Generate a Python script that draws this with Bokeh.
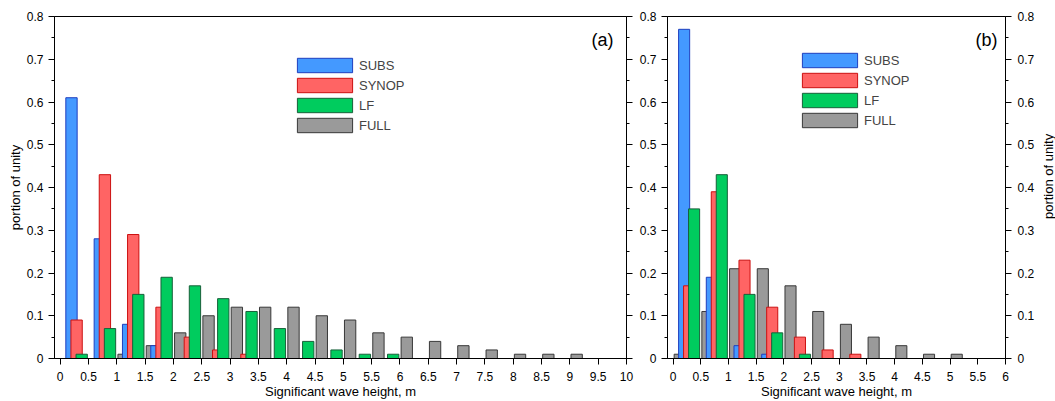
import numpy as np
from bokeh.plotting import figure
from bokeh.models import (ColumnDataSource, FixedTicker, CustomJSTickFormatter, LinearAxis,
                          Range1d, Legend, LegendItem, Label)
from bokeh.transform import dodge
from bokeh.layouts import row
from bokeh.embed import file_html
from bokeh.resources import INLINE
from bokeh.core.properties import value

# ---------------- data ----------------
series = ["SUBS", "SYNOP", "LF", "FULL"]

# panel (a): 0.5 m bins, labelled by right bin edge
edges_a = [0.5, 1.0, 1.5, 2.0, 2.5, 3.0, 3.5, 4.0, 4.5, 5.0,
           5.5, 6.0, 6.5, 7.0, 7.5, 8.0, 8.5, 9.0, 9.5, 10.0]
subs_a = [0.61, 0.28, 0.08, 0.03, 0, 0, 0, 0, 0, 0, 0, 0, 0, 0, 0, 0, 0, 0, 0, 0]
synop_a = [0.09, 0.43, 0.29, 0.12, 0.05, 0.02, 0.01, 0, 0, 0, 0, 0, 0, 0, 0, 0, 0, 0, 0, 0]
lf_a = [0.01, 0.07, 0.15, 0.19, 0.17, 0.14, 0.11, 0.07, 0.04, 0.02, 0.01, 0.01, 0, 0, 0, 0, 0, 0, 0, 0]
full_a = [0.0, 0.01, 0.03, 0.06, 0.10, 0.12, 0.12, 0.12, 0.10, 0.09, 0.06, 0.05, 0.04, 0.03,
          0.02, 0.01, 0.01, 0.01, 0, 0]

# panel (b)
edges_b = [0.0, 0.5, 1.0, 1.5, 2.0, 2.5, 3.0, 3.5, 4.0, 4.5, 5.0, 5.5, 6.0]
subs_b = [0, 0.77, 0.19, 0.03, 0.01, 0, 0, 0, 0, 0, 0, 0, 0]
synop_b = [0, 0.17, 0.39, 0.23, 0.12, 0.05, 0.02, 0.01, 0, 0, 0, 0, 0]
lf_b = [0, 0.35, 0.43, 0.15, 0.06, 0.01, 0, 0, 0, 0, 0, 0, 0]
full_b = [0.01, 0.11, 0.21, 0.21, 0.17, 0.11, 0.08, 0.05, 0.03, 0.01, 0.01, 0, 0]

y_ticks = [0, 0.1, 0.2, 0.3, 0.4, 0.5, 0.6, 0.7, 0.8]
y_minor = [0.05, 0.15, 0.25, 0.35, 0.45, 0.55, 0.65, 0.75]
x_ticks_a = [0, 0.5, 1, 1.5, 2, 2.5, 3, 3.5, 4, 4.5, 5, 5.5, 6, 6.5, 7, 7.5, 8, 8.5, 9, 9.5, 10]
x_ticks_b = [0, 0.5, 1, 1.5, 2, 2.5, 3, 3.5, 4, 4.5, 5, 5.5, 6]

x_label = "Significant wave height, m"
y_label = "portion of unity"

# ---------------- style ----------------
FONT = "Liberation Sans"
H = 401
TOP, BOTTOM = 16, 42
fills = {"SUBS": "#4499ff", "SYNOP": "#ff6464", "LF": "#00cc5e", "FULL": "#9a9a9a"}
lines = {"SUBS": "#1f3fbf", "SYNOP": "#cc1010", "LF": "#17603a", "FULL": "#383838"}
offsets = {"SUBS": -0.30, "SYNOP": -0.21, "LF": -0.12, "FULL": 0.12}
draw_order = ["FULL", "SUBS", "SYNOP", "LF"]

fmt = CustomJSTickFormatter(code="return String(Number(tick.toFixed(2)));")
blank = CustomJSTickFormatter(code="return '';")


def style_axis(ax, ticks, minor, standoff, labels=True):
    ax.ticker = FixedTicker(ticks=ticks, minor_ticks=minor)
    ax.formatter = fmt if labels else blank
    ax.axis_line_color = "black"
    ax.major_tick_line_color = "black"
    ax.minor_tick_line_color = "black"
    ax.major_tick_out = 6
    ax.major_tick_in = 0
    ax.minor_tick_out = 3
    ax.minor_tick_in = 0
    ax.major_label_standoff = standoff
    ax.major_label_text_font = FONT
    ax.major_label_text_font_size = "12px"
    ax.major_label_text_color = "black"
    ax.axis_label_text_font = FONT
    ax.axis_label_text_font_size = "13px"
    ax.axis_label_text_font_style = "normal"
    ax.axis_label_text_color = "black"


def make_panel(edges, vals, xmax, xticks, width, mb_left, mb_right, tag, legend_xy, left_title):
    p = figure(width=width, height=H, x_range=Range1d(-0.1, xmax), y_range=Range1d(0, 0.8),
               output_backend="svg", toolbar_location=None,
               min_border_left=mb_left, min_border_right=mb_right,
               min_border_top=TOP, min_border_bottom=BOTTOM)
    p.xgrid.visible = False
    p.ygrid.visible = False
    p.outline_line_color = "black"
    p.outline_line_width = 1
    p.background_fill_color = "white"
    p.border_fill_color = "white"

    renderers = {}
    for s in draw_order:
        xs = [e for e, v in zip(edges, vals[s]) if v > 0]
        ys = [v for v in vals[s] if v > 0]
        src = ColumnDataSource(dict(edge=xs, top=ys))
        r = p.vbar(x=dodge("edge", offsets[s], range=p.x_range), top="top", bottom=0,
                   width=0.2, source=src, fill_color=fills[s], line_color=lines[s],
                   line_width=1)
        renderers[s] = r

    xa = p.xaxis[0]
    style_axis(xa, xticks, [], 7)
    xa.axis_label = x_label
    xa.axis_label_standoff = 0

    ya = p.yaxis[0]
    style_axis(ya, y_ticks, y_minor, 5)
    if left_title:
        ya.axis_label = y_label
        ya.axis_label_standoff = 1
    rax = LinearAxis()
    show_right = not left_title
    style_axis(rax, y_ticks, y_minor, 6 if show_right else 0, labels=show_right)
    p.add_layout(rax, "right")

    legend = Legend(items=[LegendItem(label=s, renderers=[renderers[s]]) for s in series],
                    location=legend_xy, padding=0, margin=0, spacing=2,
                    glyph_width=69, glyph_height=18, label_height=18, label_standoff=0,
                    label_text_font=FONT, label_text_font_size="13px",
                    border_line_color=None, background_fill_alpha=0)
    p.add_layout(legend, "center")

    fw = width - mb_left - mb_right
    p.add_layout(Label(x=fw - 13, y=319, x_units="screen", y_units="screen",
                       text=tag, text_align="right", text_baseline="middle",
                       text_font=FONT, text_font_size="18px", text_color="black"))
    return p


vals_a = {"SUBS": subs_a, "SYNOP": synop_a, "LF": lf_a, "FULL": full_a}
vals_b = {"SUBS": subs_b, "SYNOP": synop_b, "LF": lf_b, "FULL": full_b}

pa = make_panel(edges_a, vals_a, 10, x_ticks_a, 636, 54, 10, "(a)", (236, 224), left_title=True)
pb = make_panel(edges_b, vals_b, 6, x_ticks_b, 401, 28, 30, "(b)", (128, 229), left_title=False)

# right-hand axis title of panel (b), reading bottom-to-top like the left one
W3 = 18
pt = figure(width=W3, height=H, x_range=Range1d(0, W3), y_range=Range1d(0, H),
            output_backend="svg", toolbar_location=None, min_border=0,
            x_axis_location=None, y_axis_location=None)
pt.outline_line_color = None
pt.xgrid.visible = False
pt.ygrid.visible = False
pt.text(x=[11], y=[H - (TOP + (H - BOTTOM)) / 2], text=[y_label], angle=np.pi / 2,
        text_align="center", text_baseline="middle", text_font=value(FONT),
        text_font_size="13px", text_color="black")

layout = row(pa, pb, pt, spacing=0)
open("out.html", "w").write(file_html(layout, INLINE))
